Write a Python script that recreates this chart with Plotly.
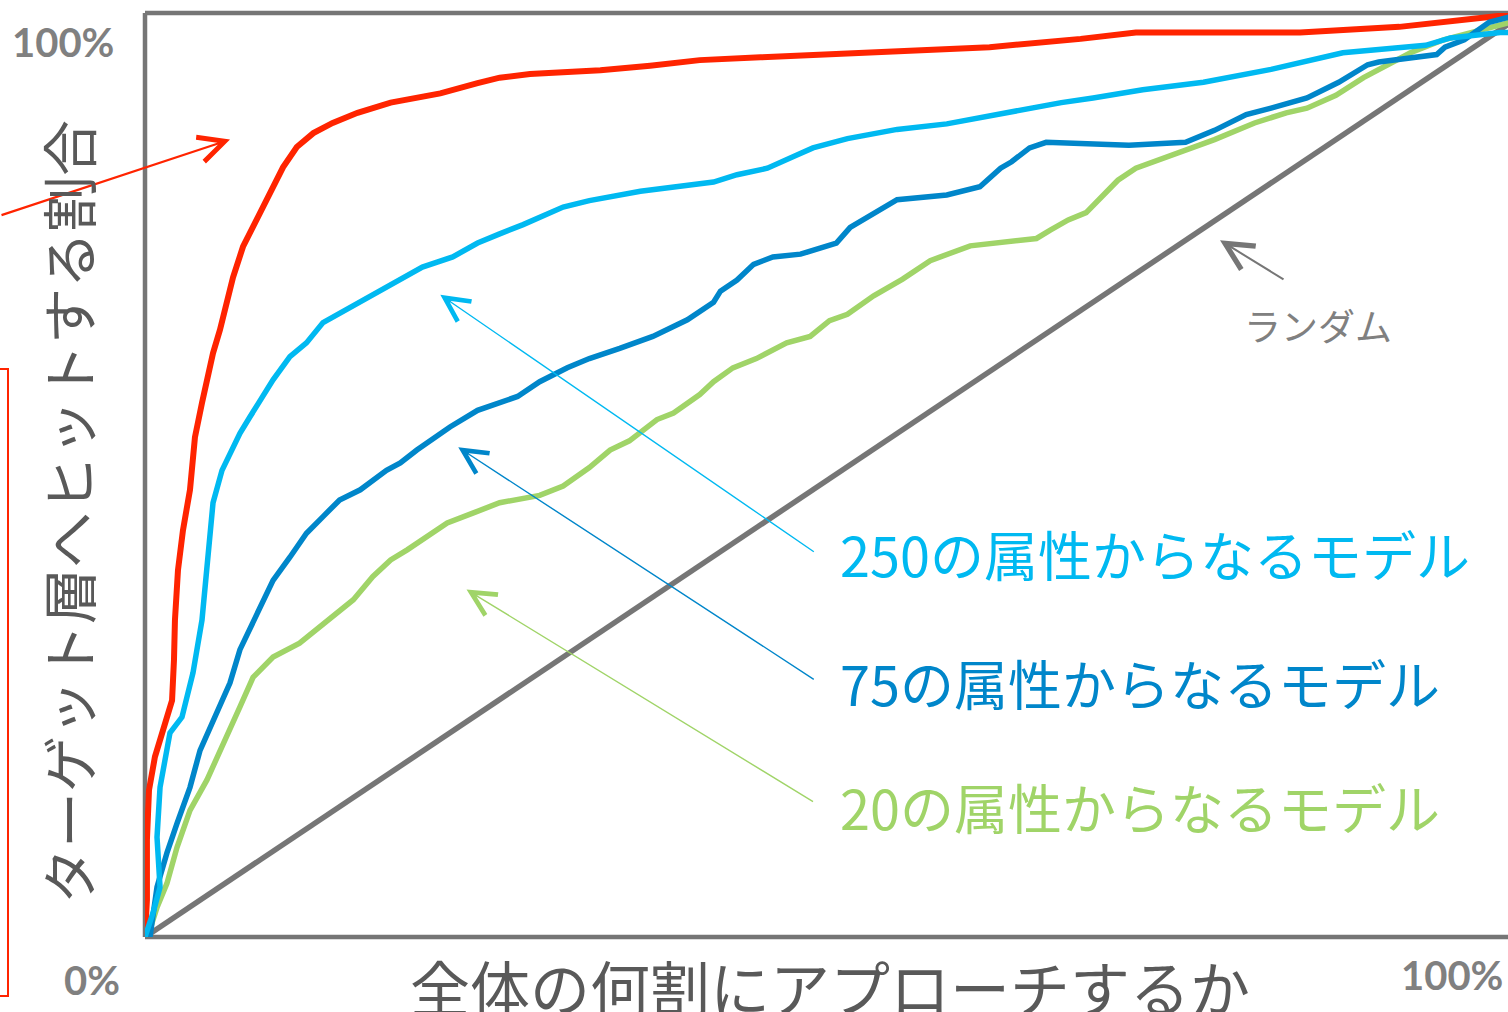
import plotly.graph_objects as go

# Cumulative gain curves: share of population contacted (%) vs. share of target hit (%)
red_x = [0, 0.14, 0.14, 0.29, 0.72, 1.45, 1.96, 2.10, 2.17, 2.39, 2.75, 3.26, 3.62, 4.13, 4.49,
         4.93, 5.43, 5.94, 6.38, 7.10, 7.83, 8.55, 9.28, 10.0, 11.0, 12.2, 13.6, 15.4, 17.8,
         21.4, 24.1, 25.7, 27.9, 33.0, 36.6, 40.2, 44.6, 52.5, 58.3, 61.2, 67.8, 71.8, 78.6,
         83.7, 90.9, 98.6, 100]
red_y = [0, 4.0, 10.5, 15.9, 19.5, 23.2, 25.6, 30.0, 34.3, 39.7, 44.0, 48.4, 54.1, 57.8, 60.3,
         63.2, 65.7, 68.9, 71.4, 74.7, 76.8, 79.0, 81.2, 83.3, 85.5, 87.0, 88.1, 89.2, 90.3,
         91.3, 92.4, 93.0, 93.4, 93.8, 94.3, 94.9, 95.2, 95.8, 96.2, 96.3, 97.2, 97.9, 97.9,
         97.9, 98.5, 99.7, 100]

m250_x = [0, 0.58, 1.09, 0.87, 1.09, 1.81, 2.68, 3.48, 4.13, 4.57, 4.93, 5.58, 5.94, 6.88, 7.61,
          8.33, 9.28, 10.5, 11.7, 12.9, 14.1, 16.1, 18.0, 20.1, 22.3, 24.1, 25.7, 27.4, 30.3,
          32.2, 35.9, 41.2, 42.9, 45.1, 47.2, 48.4, 50.9, 54.5, 58.1, 62.0, 63.8, 66.4, 68.7,
          72.3, 76.7, 81.6, 86.8, 92.8, 94.6, 98.2, 100]
m250_y = [0, 2.6, 5.4, 10.8, 16.2, 22.1, 23.8, 28.6, 34.3, 42.2, 47.0, 50.5, 51.6, 54.5, 56.3,
          58.1, 60.3, 62.8, 64.3, 66.5, 67.5, 69.3, 70.8, 72.5, 73.6, 75.1, 76.1, 77.1, 79.0,
          79.7, 80.7, 81.7, 82.5, 83.2, 84.6, 85.4, 86.4, 87.4, 88.0, 89.1, 89.7, 90.3, 90.8,
          91.7, 92.5, 93.9, 95.7, 96.5, 97.3, 97.9, 97.9]

m75_x = [0, 0.36, 0.87, 1.59, 2.32, 3.26, 3.99, 5.22, 6.16, 6.88, 8.12, 9.28, 10.5, 11.7, 12.9,
         14.1, 15.6, 17.5, 18.5, 19.7, 22.1, 24.1, 27.0, 28.6, 30.6, 32.2, 34.4, 36.8, 39.3,
         41.2, 41.7, 42.9, 44.1, 45.5, 47.5, 50.1, 51.1, 52.0, 54.5, 58.1, 60.5, 62.0, 62.8,
         64.1, 65.3, 71.3, 75.4, 77.5, 79.8, 81.6, 84.2, 86.5, 88.6, 89.4, 93.6, 94.2, 95.6,
         97.4, 100]
m75_y = [0, 0, 5.4, 9.1, 12.3, 16.2, 20.2, 24.2, 27.5, 31.1, 35.1, 38.6, 41.1, 43.7, 45.5,
         47.3, 48.4, 50.5, 51.3, 52.7, 55.2, 57.0, 58.5, 60.1, 61.6, 62.6, 63.7, 65.0, 66.8,
         68.7, 69.9, 71.1, 72.8, 73.6, 73.9, 75.1, 76.8, 77.6, 79.8, 80.3, 81.2, 83.2, 83.9,
         85.4, 86.0, 85.7, 86.0, 87.3, 89.0, 89.7, 90.8, 92.5, 94.4, 94.7, 95.5, 96.3, 97.1,
         99.0, 100]

m20_x = [0, 0.36, 0.87, 1.59, 2.32, 3.26, 4.49, 5.65, 6.88, 7.83, 9.28, 11.2, 13.6, 15.1, 16.5,
         17.8, 19.0, 21.9, 23.8, 25.7, 28.6, 30.3, 32.2, 33.7, 35.1, 37.1, 38.3, 40.2, 41.2,
         42.6, 44.3, 46.5, 48.2, 49.6, 50.9, 52.8, 54.9, 56.9, 59.8, 62.0, 64.6, 65.6, 66.9,
         68.2, 70.5, 71.8, 74.3, 77.5, 80.4, 82.7, 84.2, 86.3, 88.3, 91.7, 94.1, 98.7, 100]
m20_y = [0, 0.8, 3.2, 5.8, 9.7, 13.7, 17.0, 21.0, 24.9, 28.1, 30.3, 31.8, 34.6, 36.5, 39.0,
         40.8, 41.9, 44.8, 45.9, 47.0, 47.8, 48.8, 50.8, 52.7, 53.7, 56.0, 56.7, 58.7, 60.1,
         61.6, 62.6, 64.3, 65.0, 66.7, 67.4, 69.4, 71.2, 73.2, 74.8, 75.1, 75.6, 76.5, 77.6,
         78.4, 81.9, 83.2, 84.6, 86.3, 88.1, 89.2, 89.7, 91.1, 93.0, 95.7, 97.1, 98.9, 100]

random_x = [0, 100]
random_y = [0, 100]

labels = ["250の属性からなるモデル", "75の属性からなるモデル", "20の属性からなるモデル"]
x_title = "全体の何割にアプローチするか"
y_title = "ターゲット層へヒットする割合"
random_label = "ランダム"
corner_ticks = ["0%", "100%", "100%"]

RED = "#FF2400"
CYAN = "#00B9F1"
BLUE = "#0086CA"
GREEN = "#A0D468"
GRAY = "#767676"
JP = "Noto Sans CJK JP"

fig = go.Figure()
fig.add_trace(go.Scatter(x=random_x, y=random_y, mode="lines",
                         line=dict(color=GRAY, width=5.5)))
fig.add_trace(go.Scatter(x=red_x, y=red_y, mode="lines",
                         line=dict(color=RED, width=6)))
fig.add_trace(go.Scatter(x=m20_x, y=m20_y, mode="lines",
                         line=dict(color=GREEN, width=5.5)))
fig.add_trace(go.Scatter(x=m75_x, y=m75_y, mode="lines",
                         line=dict(color=BLUE, width=5.5)))
fig.add_trace(go.Scatter(x=m250_x, y=m250_y, mode="lines",
                         line=dict(color=CYAN, width=5.5)))

L, T, B, W, H = 145, 13, 75, 1508, 1012
plot_w = W - L
x_max = plot_w / 13.8  # 13.8 px per percentage point

fig.update_layout(
    width=W, height=H,
    margin=dict(l=L, r=0, t=T, b=B),
    paper_bgcolor="white", plot_bgcolor="white",
    showlegend=False,
    xaxis=dict(range=[0, x_max], visible=False, fixedrange=True),
    yaxis=dict(range=[0, 100], visible=False, fixedrange=True),
)

# frame on the left, top and bottom
frame = dict(type="line", xref="paper", yref="paper", layer="below",
             line=dict(color=GRAY, width=4.5))
fig.add_shape(x0=0, x1=0, y0=0, y1=1, **frame)
fig.add_shape(x0=0, x1=1.01, y0=1, y1=1, **frame)
fig.add_shape(x0=0, x1=1.01, y0=0, y1=0, **frame)

# red box at the far left edge
fig.add_shape(type="rect", xref="paper", yref="paper",
              x0=-0.2, x1=(8 - L) / plot_w, y0=(937 - 996) / 924, y1=(937 - 369) / 924,
              line=dict(color=RED, width=2), fillcolor="rgba(0,0,0,0)")

def arrow(x, y, ax, ay, color, width, size):
    fig.add_annotation(x=x, y=y, xref="x", yref="y", ax=ax, ay=ay, text="",
                       showarrow=True, arrowhead=5, arrowsize=size,
                       arrowwidth=width, arrowcolor=color, standoff=0)

arrow(6.16, 86.3, -235, 76, RED, 2.2, 2.3)
arrow(21.4, 69.5, 375, 258, CYAN, 1.4, 3.4)
arrow(22.7, 53.0, 357, 233, BLUE, 1.4, 3.4)
arrow(23.3, 37.6, 348, 213, GREEN, 1.4, 3.4)
arrow(77.9, 75.4, 65, 40, GRAY, 2.0, 2.7)

# series labels
for text, color, py in zip(labels, [CYAN, BLUE, GREEN], [553, 683, 806]):
    fig.add_annotation(x=(838 - L) / plot_w, y=(937 - py) / 924, xref="paper", yref="paper",
                       text=text, showarrow=False, xanchor="left", yanchor="middle",
                       font=dict(family=JP, size=54, color=color))

fig.add_annotation(x=(1318 - L) / plot_w, y=(937 - 325) / 924, xref="paper", yref="paper",
                   text=random_label, showarrow=False, xanchor="center", yanchor="middle",
                   font=dict(family=JP, size=37, color="#808080"))

# axis titles
fig.add_annotation(x=(830 - L) / plot_w, y=(937 - 985) / 924, xref="paper", yref="paper",
                   text=x_title, showarrow=False, xanchor="center", yanchor="middle",
                   font=dict(family=JP, size=60, color="#595959"))
fig.add_annotation(x=(66 - L) / plot_w, y=(937 - 512) / 924, xref="paper", yref="paper",
                   text=y_title, showarrow=False, textangle=-90,
                   xanchor="center", yanchor="middle",
                   font=dict(family=JP, size=56, color="#595959"))

# corner scale labels
tick_font = dict(family="Lato", size=40, color="#808080")
for text, px, py in zip(corner_ticks, [92, 63, 1452], [980, 42, 975]):
    fig.add_annotation(x=(px - L) / plot_w, y=(937 - py) / 924, xref="paper", yref="paper",
                       text="<b>" + text + "</b>", showarrow=False,
                       xanchor="center", yanchor="middle", font=tick_font)

fig.write_html("out.html")
